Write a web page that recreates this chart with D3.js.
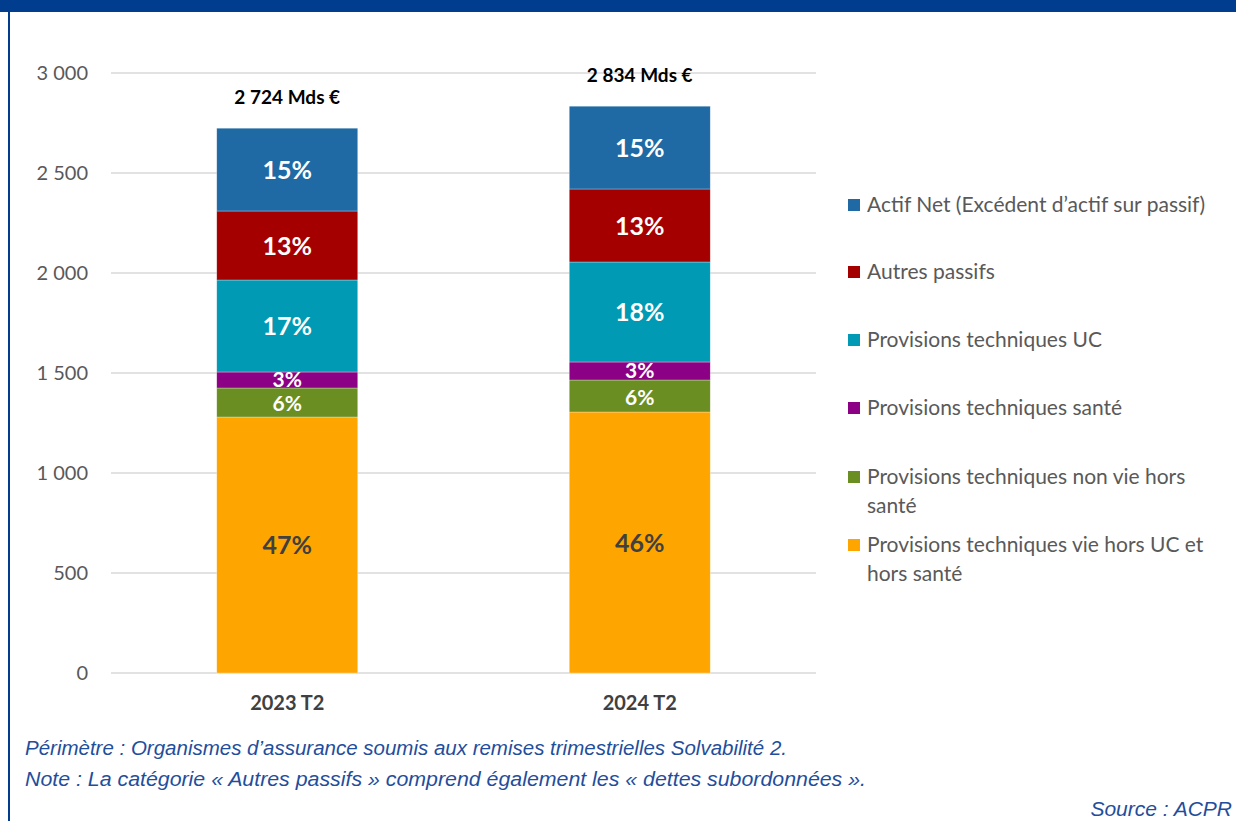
<!DOCTYPE html>
<html>
<head>
<meta charset="utf-8">
<script src="https://cdn.jsdelivr.net/npm/d3@7"></script>
<style>
  body { margin: 0; background: #fff; }
  svg { display: block; }
</style>
</head>
<body>
<div id="chart"></div>
<script>
// data (Mds €)
const periods = ["2023 T2", "2024 T2"];
const totals = [2724, 2834];
const seriesNames = [
  "Provisions techniques vie hors UC et hors santé",
  "Provisions techniques non vie hors santé",
  "Provisions techniques santé",
  "Provisions techniques UC",
  "Autres passifs",
  "Actif Net (Excédent d’actif sur passif)"
];
const seriesValues = [
  [1280, 1305],
  [145, 160],
  [80, 90],
  [460, 500],
  [345, 365],
  [414, 414]
];
const seriesPct = [
  ["47%", "46%"],
  ["6%", "6%"],
  ["3%", "3%"],
  ["17%", "18%"],
  ["13%", "13%"],
  ["15%", "15%"]
];
const colors = ["#ffa500", "#6b8e23", "#8b0085", "#009ab5", "#a50000", "#1f6aa5"];
const yTicks = [0, 500, 1000, 1500, 2000, 2500, 3000];

const width = 1236, height = 821;
const font = "Lato, 'Open Sans', sans-serif";
const svg = d3.select("#chart").append("svg")
  .attr("width", width)
  .attr("height", height);

// frame
svg.append("rect").attr("x", 0).attr("y", 0).attr("width", width).attr("height", 12).attr("fill", "#003d8f");
svg.append("rect").attr("x", 8).attr("y", 0).attr("width", 2).attr("height", height).attr("fill", "#003d8f");

const x = d3.scaleBand().domain(periods).range([111, 816]).paddingInner(0.6).paddingOuter(0.3);
const y = d3.scaleLinear().domain([0, 3000]).range([673, 73]);
const fmt = v => d3.format(",")(v).replace(/,/g, " ");

// gridlines + y labels
const yAxis = svg.append("g");
yAxis.selectAll("line").data(yTicks).enter().append("line")
  .attr("x1", 111).attr("x2", 816)
  .attr("y1", d => y(d)).attr("y2", d => y(d))
  .attr("stroke", "#d9d9d9").attr("stroke-width", 1.5);
yAxis.selectAll("text").data(yTicks).enter().append("text")
  .attr("x", 88).attr("y", d => y(d)).attr("dy", "0.35em")
  .attr("text-anchor", "end")
  .attr("font-family", font)
  .attr("font-size", 20).attr("fill", "#595959")
  .text(d => fmt(d));

// stacked bars
const rows = periods.map((p, i) => {
  const r = { period: p };
  seriesNames.forEach((s, j) => r[s] = seriesValues[j][i]);
  return r;
});
const stacked = d3.stack().keys(seriesNames)(rows);

const layers = svg.append("g").selectAll("g").data(stacked).enter().append("g")
  .attr("fill", (d, i) => colors[i]);
layers.selectAll("rect").data(d => d).enter().append("rect")
  .attr("x", d => x(d.data.period))
  .attr("width", x.bandwidth())
  .attr("y", d => y(d[1]))
  .attr("height", d => y(d[0]) - y(d[1]))
  .attr("stroke", "#ffffff").attr("stroke-opacity", 0.5).attr("stroke-width", 0.6);

// percent labels
stacked.forEach((layer, j) => {
  const small = j === 1 || j === 2;
  svg.append("g").selectAll("text").data(layer).enter().append("text")
    .attr("x", d => x(d.data.period) + x.bandwidth() / 2)
    .attr("y", d => (y(d[0]) + y(d[1])) / 2 + (j === 1 ? 1 : j === 2 ? -1 : 0))
    .attr("dy", "0.36em")
    .attr("text-anchor", "middle")
    .attr("font-family", font)
    .attr("font-weight", "bold")
    .attr("font-size", small ? 21 : 25)
    .attr("fill", j === 0 ? "#404040" : "#ffffff")
    .text((d, i) => seriesPct[j][i]);
});

// totals
svg.append("g").selectAll("text").data(periods).enter().append("text")
  .attr("x", d => x(d) + x.bandwidth() / 2)
  .attr("y", (d, i) => y(totals[i]) - 31)
  .attr("dy", "0.35em")
  .attr("text-anchor", "middle")
  .attr("font-family", font)
  .attr("font-weight", "bold").attr("font-size", 19).attr("fill", "#000")
  .text((d, i) => fmt(totals[i]) + " Mds €");

// x labels
svg.append("g").selectAll("text").data(periods).enter().append("text")
  .attr("x", d => x(d) + x.bandwidth() / 2)
  .attr("y", 703).attr("dy", "0.35em")
  .attr("text-anchor", "middle")
  .attr("font-family", font)
  .attr("font-weight", "bold").attr("font-size", 20).attr("fill", "#404040")
  .text(d => d);

// legend (top to bottom, reversed order)
const legendItems = [
  { i: 5, lines: ["Actif Net (Excédent d’actif sur passif)"], y: 205 },
  { i: 4, lines: ["Autres passifs"], y: 272 },
  { i: 3, lines: ["Provisions techniques UC"], y: 340 },
  { i: 2, lines: ["Provisions techniques santé"], y: 408 },
  { i: 1, lines: ["Provisions techniques non vie hors", "santé"], y: 477 },
  { i: 0, lines: ["Provisions techniques vie hors UC et", "hors santé"], y: 545 }
];
const legend = svg.append("g").selectAll("g").data(legendItems).enter().append("g");
legend.append("rect")
  .attr("x", 848).attr("y", d => d.y - 6)
  .attr("width", 12).attr("height", 12)
  .attr("fill", d => colors[d.i]);
legend.each(function(d) {
  d3.select(this).selectAll("text").data(d.lines).enter().append("text")
    .attr("x", 867).attr("y", (t, k) => d.y + k * 29).attr("dy", "0.35em")
    .attr("font-family", font)
    .attr("font-size", 21).attr("fill", "#595959")
    .text(t => t);
});

// notes
const notes = svg.append("g")
  .attr("font-family", "'Liberation Sans', Arial, sans-serif")
  .attr("font-style", "italic").attr("font-size", 20).attr("fill", "#1f4e9c");
notes.append("text").attr("x", 25).attr("y", 755)
  .attr("textLength", 762).attr("lengthAdjust", "spacingAndGlyphs")
  .text("Périmètre : Organismes d’assurance soumis aux remises trimestrielles Solvabilité 2.");
notes.append("text").attr("x", 25).attr("y", 786)
  .attr("textLength", 841).attr("lengthAdjust", "spacingAndGlyphs")
  .text("Note : La catégorie « Autres passifs » comprend également les « dettes subordonnées ».");
notes.append("text").attr("x", 1232).attr("y", 816).attr("text-anchor", "end")
  .attr("font-size", 21)
  .text("Source : ACPR");
</script>
</body>
</html>
